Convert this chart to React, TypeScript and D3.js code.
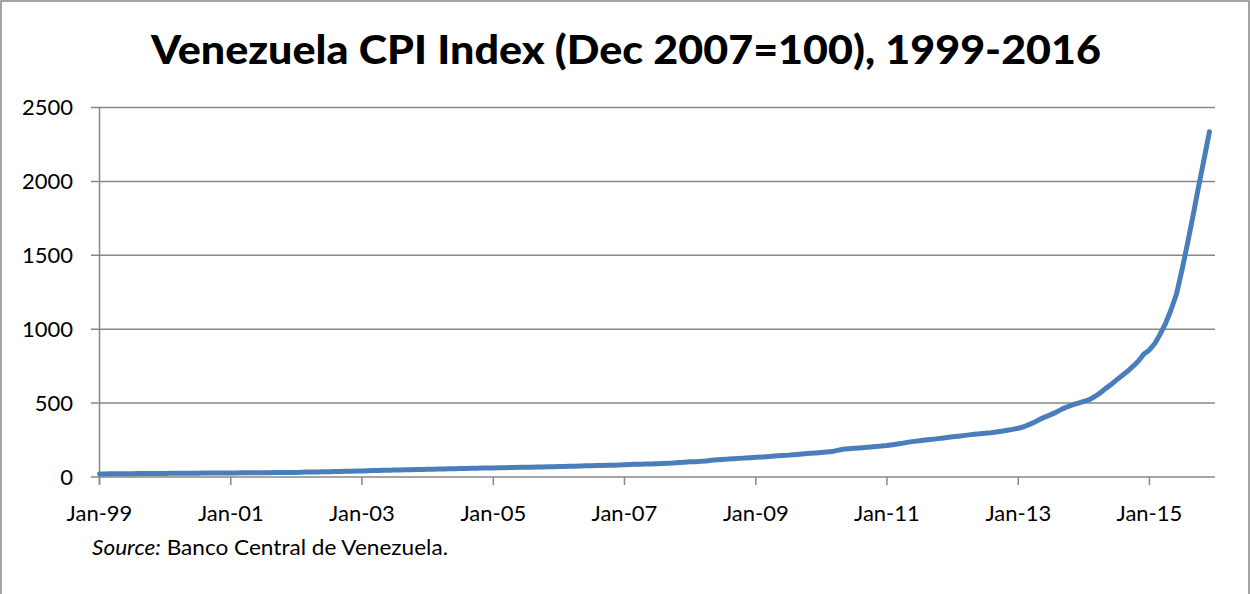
import React from 'react';
import * as d3 from 'd3';

// Venezuela CPI, Dec 2007 = 100, monthly Jan 1999 .. Dec 2015
const years = d3.range(1999, 2016);
const cpi1999 = [20.6, 21.0, 21.4, 21.7, 22.0, 22.4, 22.7, 23.0, 23.2, 23.5, 23.8, 24.1];
const cpi2000 = [24.4, 24.7, 25.0, 25.3, 25.6, 25.8, 26.1, 26.3, 26.5, 26.8, 27.0, 27.3];
const cpi2001 = [27.5, 27.8, 28.0, 28.3, 28.6, 28.9, 29.2, 29.5, 29.8, 30.1, 30.4, 30.7];
const cpi2002 = [31.2, 31.8, 33.0, 33.8, 34.5, 35.3, 36.0, 36.8, 37.6, 38.5, 39.4, 40.3];
const cpi2003 = [41.3, 42.6, 43.4, 44.3, 45.2, 45.9, 46.8, 47.7, 48.6, 49.5, 50.4, 51.2];
const cpi2004 = [52.1, 53.0, 54.0, 54.9, 55.7, 56.6, 57.4, 58.1, 58.9, 59.7, 60.4, 61.0];
const cpi2005 = [61.7, 62.4, 63.2, 63.9, 64.5, 65.2, 65.9, 66.6, 67.4, 68.2, 69.0, 69.8];
const cpi2006 = [70.5, 71.4, 72.4, 73.3, 74.4, 75.4, 76.2, 77.2, 78.1, 79.0, 80.0, 81.6];
const cpi2007 = [83.2, 84.5, 85.5, 86.3, 87.3, 88.5, 89.4, 90.8, 92.2, 94.0, 97.4, 100];
const cpi2008 = [102.5, 104, 106, 109, 113, 116, 119, 121, 124, 126, 128, 131];
const cpi2009 = [133, 135, 137, 140, 143, 146, 148, 151, 154, 157, 160, 163];
const cpi2010 = [166, 169, 172, 180, 188, 191, 194, 197, 200, 203, 206, 209];
const cpi2011 = [213, 218, 223, 229, 236, 241, 245, 250, 254, 258, 262, 267];
const cpi2012 = [272, 276, 280, 285, 289, 292, 296, 300, 305, 310, 316, 322];
const cpi2013 = [330, 340, 354, 370, 390, 407, 422, 439, 459, 475, 489, 500];
const cpi2014 = [512, 523, 543, 568, 598, 625, 655, 685, 715, 748, 785, 832];
const cpi2015 = [860, 905, 965, 1040, 1130, 1240, 1400, 1580, 1770, 1960, 2150, 2336];

const cpiByYear = [cpi1999, cpi2000, cpi2001, cpi2002, cpi2003, cpi2004, cpi2005, cpi2006,
  cpi2007, cpi2008, cpi2009, cpi2010, cpi2011, cpi2012, cpi2013, cpi2014, cpi2015];

const yTicks = [0, 500, 1000, 1500, 2000, 2500];
const xTickYears = [1999, 2001, 2003, 2005, 2007, 2009, 2011, 2013, 2015];

const title = 'Venezuela CPI Index (Dec 2007=100), 1999-2016';
const FONT = 'Lato, Carlito, Calibri, sans-serif';

export default function App() {
  const width = 1250;
  const height = 594;

  const data = years.flatMap((yr, i) =>
    cpiByYear[i].map((v, m) => ({ date: new Date(yr, m, 1), value: v }))
  );

  const x = d3.scaleTime()
    .domain([new Date(1999, 0, 1), new Date(2016, 0, 1)])
    .range([99.5, 1215]);

  const y = d3.scaleLinear()
    .domain([0, 2500])
    .range([477, 107.5]);

  const line = d3.line<{ date: Date; value: number }>()
    .x(d => x(d.date))
    .y(d => y(d.value));

  const fmt = d3.timeFormat('%b-%y');
  const gridColor = '#878787';

  return (
    <svg width={width} height={height} style={{ position: 'absolute', left: 0, top: 0 }}>
      <rect x={0} y={0} width={width} height={height} fill="#fff" />
      <rect x={1} y={1} width={1248} height={620} fill="none" stroke={gridColor} strokeWidth={1.5} />

      <text x={626} y={64} textAnchor="middle" fontFamily={FONT} fontWeight="900" fontSize={40}
        textLength={950} lengthAdjust="spacingAndGlyphs" fill="#000">{title}</text>

      {/* horizontal grid + y ticks */}
      {yTicks.map(t => (
        <g key={t}>
          <line x1={91} x2={1215} y1={y(t)} y2={y(t)} stroke={gridColor} strokeWidth={1.5} />
          <text x={73} y={y(t)} dy="0.36em" textAnchor="end" fontFamily={FONT} fontSize={22} fill="#000">{t}</text>
        </g>
      ))}

      {/* y axis line */}
      <line x1={99.5} x2={99.5} y1={y(2500)} y2={485} stroke={gridColor} strokeWidth={1.5} />

      {/* x ticks */}
      {xTickYears.map(yr => {
        const d = new Date(yr, 0, 1);
        return (
          <g key={yr}>
            <line x1={x(d)} x2={x(d)} y1={477} y2={485} stroke={gridColor} strokeWidth={1.5} />
            <text x={x(d)} y={521} textAnchor="middle" fontFamily={FONT} fontSize={22} fill="#000">{fmt(d)}</text>
          </g>
        );
      })}

      <path d={line(data) || ''} fill="none" stroke="#4a7ebb" strokeWidth={5}
        strokeLinejoin="round" strokeLinecap="round" />

      <text x={92} y={555} fontFamily={FONT} fontSize={21} fill="#000"
        textLength={356} lengthAdjust="spacingAndGlyphs">
        <tspan fontStyle="italic">Source:</tspan> Banco Central de Venezuela.
      </text>
    </svg>
  );
}
